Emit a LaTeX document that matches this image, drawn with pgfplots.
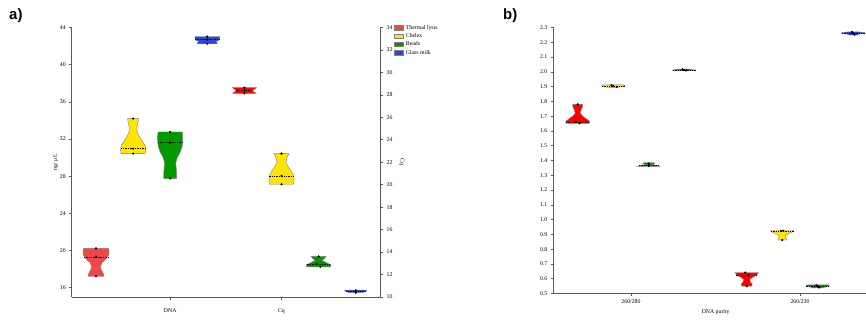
\documentclass[border=0pt]{standalone}
\usepackage{pgfplots}
\pgfplotsset{compat=1.18}
\usepackage{fontspec}
\setmainfont{Liberation Serif}
\newfontfamily\labfont{Liberation Sans}
\definecolor{thA}{HTML}{F24545}
\definecolor{thB}{HTML}{FF0000}
\definecolor{chx}{HTML}{FFE400}
\definecolor{bds}{HTML}{009A00}
\definecolor{gls}{HTML}{2E46D6}
\definecolor{axc}{HTML}{5A5A5A}
\pgfplotsset{
  vio/.style={draw=gray, line width=0.4pt, fill=#1, forget plot},
  med/.style={black, dashed, dash pattern=on 1.4pt off 1pt, line width=0.5pt, forget plot},
  dots/.style={only marks, mark=*, mark size=0.9pt, black, forget plot},
  base/.style={
    scale only axis,
    tick align=outside,
    major tick length=2.5bp,
    tick style={axc, line width=0.6pt},
    axis line style={axc, line width=0.8pt},
    ticklabel style={font=\fontsize{5.8}{6.5}\selectfont},
    label style={font=\fontsize{5.8}{6.5}\selectfont},
    /pgf/number format/assume math mode=true,
  },
}
\begin{document}
\begin{tikzpicture}[x=1bp,y=1bp]
\useasboundingbox (0,0) rectangle (866,323);
\node[anchor=north west, inner sep=0pt] at (9bp,315bp) {\labfont\bfseries\fontsize{15}{16}\selectfont a)};
\node[anchor=north west, inner sep=0pt] at (503bp,315bp) {\labfont\bfseries\fontsize{15}{16}\selectfont b)};
% ---------------- panel a, left axis (DNA, ng/uL)
\begin{axis}[base,
  at={(71.7bp,26bp)}, anchor=south west,
  width=309bp, height=269.5bp,
  xmin=0.345, xmax=8.674, ymin=15, ymax=44,
  axis y line*=left, axis x line*=bottom,
  ytick={16,20,24,28,32,36,40,44},
  xtick={3,6}, xticklabels={DNA,Cq},
  xticklabel style={yshift=-6bp},
  ylabel={ng/ µL}, ylabel style={yshift=-5bp},
]
\addplot[vio=thA] coordinates {(1.216,17.23)(1.189,17.6)(1.135,18.0)(1.121,18.3)(1.162,18.7)(1.27,19.1)(1.337,19.5)(1.35,19.9)(1.337,20.23)(0.663,20.23)(0.65,19.9)(0.663,19.5)(0.73,19.1)(0.838,18.7)(0.879,18.3)(0.865,18.0)(0.811,17.6)(0.784,17.23)(1.216,17.23)};
\addplot[med] coordinates {(0.67,19.33)(1.33,19.33)};
\addplot[dots] coordinates {(1,17.23)(1,19.33)(1,20.23)};
\addplot[vio=chx] coordinates {(2.323,30.43)(2.337,30.8)(2.323,31.3)(2.243,31.8)(2.162,32.3)(2.108,32.8)(2.102,33.3)(2.135,33.8)(2.148,34.19)(1.852,34.19)(1.865,33.8)(1.898,33.3)(1.892,32.8)(1.838,32.3)(1.757,31.8)(1.677,31.3)(1.663,30.8)(1.677,30.43)(2.323,30.43)};
\addplot[med] coordinates {(1.665,30.97)(2.335,30.97)};
\addplot[dots] coordinates {(2,30.43)(2,30.97)(2,34.19)};
\addplot[vio=bds] coordinates {(3.175,27.75)(3.175,28.3)(3.162,28.9)(3.148,29.4)(3.189,30.0)(3.27,30.6)(3.323,31.2)(3.337,31.8)(3.337,32.4)(3.323,32.76)(2.677,32.76)(2.663,32.4)(2.663,31.8)(2.677,31.2)(2.73,30.6)(2.811,30.0)(2.852,29.4)(2.838,28.9)(2.825,28.3)(2.825,27.75)(3.175,27.75)};
\addplot[med] coordinates {(2.665,31.61)(3.335,31.61)};
\addplot[dots] coordinates {(3,27.75)(3,31.61)(3,32.76)};
\addplot[vio=gls] coordinates {(4.27,42.25)(4.26,42.4)(4.229,42.5)(4.323,42.65)(4.337,43.03)(3.663,43.03)(3.677,42.65)(3.771,42.5)(3.74,42.4)(3.73,42.25)(4.27,42.25)};
\addplot[med] coordinates {(3.67,42.71)(4.33,42.71)};
\addplot[dots] coordinates {(4,42.25)(4,42.71)(4,43.03)};
\end{axis}
% ---------------- panel a, right axis (Cq)
\begin{axis}[base,
  at={(71.7bp,26bp)}, anchor=south west,
  width=309bp, height=269.5bp,
  xmin=0.345, xmax=8.674, ymin=10, ymax=34,
  axis y line*=right, axis x line=none,
  ytick={10,12,...,34},
  ylabel={Cq}, ylabel style={rotate=180},
  legend style={at={(1,1)}, anchor=north west, xshift=13bp, yshift=3bp,
    draw=none, fill=none, inner sep=0pt,
    font=\fontsize{5.8}{6.5}\selectfont,
    nodes={inner sep=0.6pt, text height=4bp, text depth=1bp},
    row sep=2.1bp},
  legend cell align=left,
  legend image code/.code={\draw[#1] (0bp,-2.2bp) rectangle (9bp,2.2bp); \path (11bp,0bp);},
]
\addlegendimage{fill=thA, draw=gray}
\addlegendentry{Thermal lysis}
\addlegendimage{fill=chx, draw=gray}
\addlegendentry{Chelex}
\addlegendimage{fill=bds, draw=gray}
\addlegendentry{Beads}
\addlegendimage{fill=gls, draw=gray}
\addlegendentry{Glass milk}
\addplot[vio=thB] coordinates {(5.323,28.13)(5.27,28.25)(5.216,28.38)(5.27,28.5)(5.323,28.64)(4.677,28.64)(4.73,28.5)(4.784,28.38)(4.73,28.25)(4.677,28.13)(5.323,28.13)};
\addplot[med] coordinates {(4.78,28.4)(5.22,28.4)};
\addplot[dots] coordinates {(5,28.13)(5,28.4)(5,28.64)};
\addplot[vio=chx] coordinates {(6.323,20.04)(6.337,20.4)(6.323,20.9)(6.243,21.3)(6.162,21.7)(6.121,22.0)(6.148,22.4)(6.202,22.77)(5.798,22.77)(5.852,22.4)(5.879,22.0)(5.838,21.7)(5.757,21.3)(5.677,20.9)(5.663,20.4)(5.677,20.04)(6.323,20.04)};
\addplot[med] coordinates {(5.67,20.79)(6.33,20.79)};
\addplot[dots] coordinates {(6,20.04)(6,20.79)(6,22.77)};
\addplot[vio=bds] coordinates {(7.323,12.69)(7.337,12.85)(7.216,13.05)(7.094,13.25)(7.162,13.45)(7.202,13.62)(6.798,13.62)(6.838,13.45)(6.906,13.25)(6.784,13.05)(6.663,12.85)(6.677,12.69)(7.323,12.69)};
\addplot[med] coordinates {(6.7,12.93)(7.3,12.93)};
\addplot[dots] coordinates {(7.05,12.69)(6.95,12.93)(7,13.62)};
\addplot[vio=gls] coordinates {(8.162,10.38)(8.243,10.46)(8.296,10.55)(8.296,10.62)(7.704,10.62)(7.704,10.55)(7.757,10.46)(7.838,10.38)(8.162,10.38)};
\addplot[med] coordinates {(7.73,10.5)(8.27,10.5)};
\addplot[dots] coordinates {(8,10.38)(8,10.5)(8,10.6)};
\end{axis}
% ---------------- panel b
\begin{axis}[base,
  at={(553.3bp,29.5bp)}, anchor=south west,
  width=312.7bp, height=266bp,
  xmin=0.313, xmax=9.12, ymin=0.5, ymax=2.3,
  axis y line*=left, axis x line*=bottom,
  ytick={0.5,0.6,...,2.31},
  yticklabel style={/pgf/number format/.cd, fixed, fixed zerofill, precision=1},
  xtick={2.5,7.26}, xticklabels={260/280,260/230},
  xlabel={DNA purity},
  xlabel style={yshift=1bp, xshift=6bp},
]
\addplot[vio=thB] coordinates {(1.324,1.652)(1.338,1.665)(1.254,1.68)(1.141,1.70)(1.07,1.72)(1.099,1.745)(1.141,1.765)(1.141,1.78)(0.859,1.78)(0.859,1.765)(0.901,1.745)(0.93,1.72)(0.859,1.70)(0.746,1.68)(0.662,1.665)(0.676,1.652)(1.324,1.652)};
\addplot[med] coordinates {(0.67,1.66)(1.33,1.66)};
\addplot[dots] coordinates {(1.05,1.652)(0.95,1.66)(1,1.78)};
\addplot[vio=chx] coordinates {(2.113,1.895)(2.282,1.90)(2.324,1.905)(2.31,1.912)(1.69,1.912)(1.676,1.905)(1.718,1.90)(1.887,1.895)(2.113,1.895)};
\addplot[med] coordinates {(1.68,1.905)(2.32,1.905)};
\addplot[dots] coordinates {(2.1,1.897)(2,1.905)(1.95,1.91)};
\addplot[vio=bds] coordinates {(3.324,1.36)(3.225,1.367)(3.085,1.372)(3.169,1.38)(3.141,1.385)(2.859,1.385)(2.831,1.38)(2.915,1.372)(2.775,1.367)(2.676,1.36)(3.324,1.36)};
\addplot[med] coordinates {(2.72,1.37)(3.28,1.37)};
\addplot[dots] coordinates {(3,1.363)(3,1.37)(3,1.38)};
\addplot[vio=gls] coordinates {(4.282,2.008)(4.324,2.012)(4.225,2.016)(4.113,2.019)(3.887,2.019)(3.775,2.016)(3.676,2.012)(3.718,2.008)(4.282,2.008)};
\addplot[med] coordinates {(3.68,2.012)(4.32,2.012)};
\addplot[dots] coordinates {(4.05,2.009)(4,2.012)(3.95,2.017)};
\addplot[vio=thB] coordinates {(5.901,0.55)(5.915,0.565)(5.859,0.58)(5.845,0.595)(5.929,0.61)(6.042,0.625)(6.09,0.642)(5.43,0.642)(5.478,0.625)(5.591,0.61)(5.675,0.595)(5.661,0.58)(5.605,0.565)(5.619,0.55)(5.901,0.55)};
\addplot[med] coordinates {(5.47,0.622)(6.05,0.622)};
\addplot[dots] coordinates {(5.76,0.55)(5.8,0.622)(5.72,0.642)};
\addplot[vio=chx] coordinates {(6.887,0.862)(6.873,0.875)(6.845,0.89)(6.929,0.905)(7.07,0.918)(7.084,0.926)(6.436,0.926)(6.45,0.918)(6.591,0.905)(6.675,0.89)(6.647,0.875)(6.633,0.862)(6.887,0.862)};
\addplot[med] coordinates {(6.44,0.923)(7.08,0.923)};
\addplot[dots] coordinates {(6.73,0.924)(6.79,0.924)(6.76,0.862)};
\addplot[vio=bds] coordinates {(7.901,0.538)(7.985,0.545)(8.084,0.552)(8.07,0.558)(7.45,0.558)(7.436,0.552)(7.535,0.545)(7.619,0.538)(7.901,0.538)};
\addplot[med] coordinates {(7.44,0.55)(8.08,0.55)};
\addplot[dots] coordinates {(7.8,0.541)(7.76,0.55)(7.72,0.556)};
\addplot[vio=gls] coordinates {(8.873,2.249)(8.929,2.256)(9.098,2.262)(9.07,2.266)(8.873,2.271)(8.647,2.271)(8.45,2.266)(8.422,2.262)(8.591,2.256)(8.647,2.249)(8.873,2.249)};
\addplot[med] coordinates {(8.44,2.26)(9.08,2.26)};
\addplot[dots] coordinates {(8.8,2.252)(8.76,2.26)(8.72,2.27)};
\end{axis}
\end{tikzpicture}
\end{document}
